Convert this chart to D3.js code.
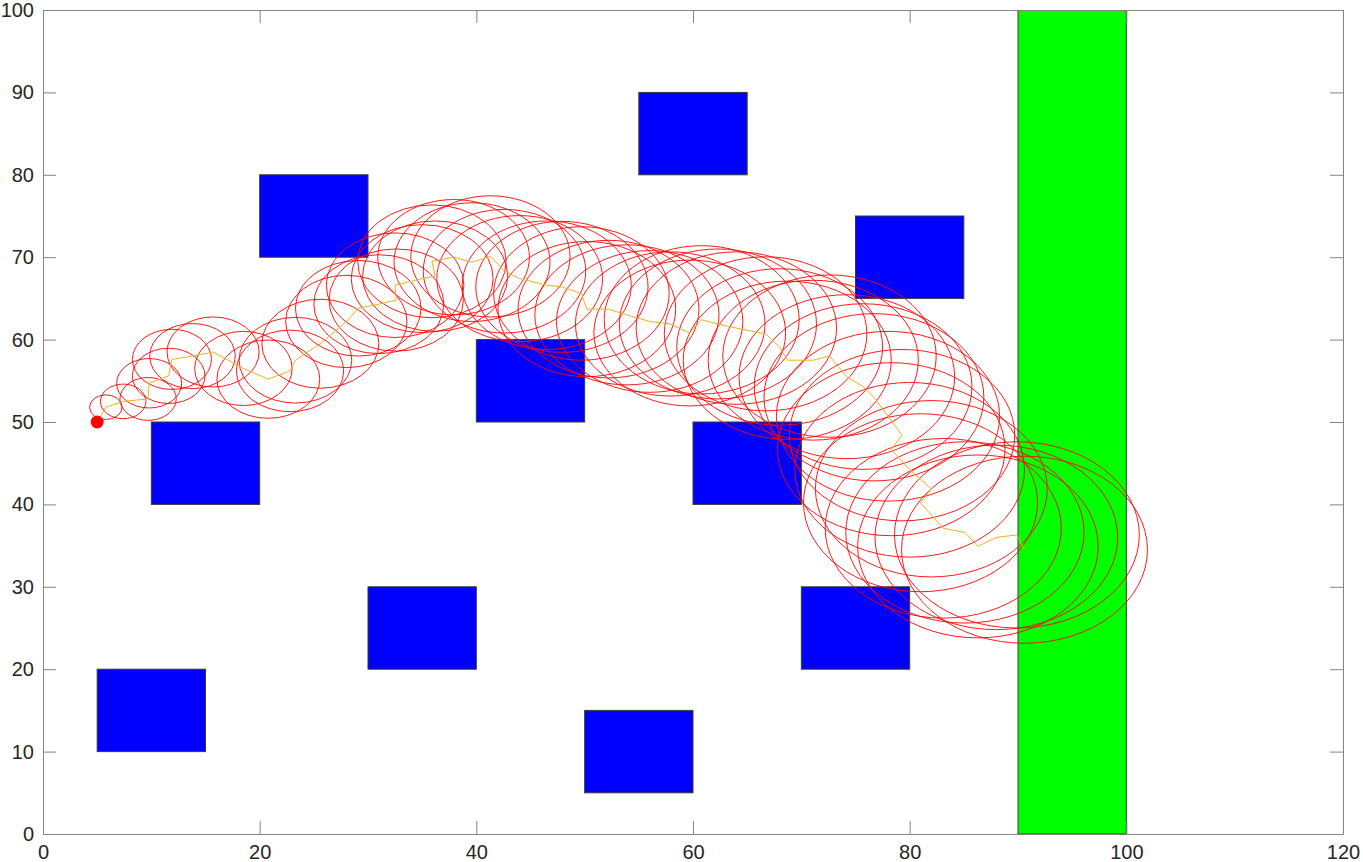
<!DOCTYPE html>
<html>
<head>
<meta charset="utf-8">
<script src="https://cdn.jsdelivr.net/npm/d3@7"></script>
<style>
  html, body { margin: 0; padding: 0; background: #fff; }
  svg { display: block; }
</style>
</head>
<body>
<script>
// ---- data ----
const xTicks = [0, 20, 40, 60, 80, 100, 120];
const yTicks = [0, 10, 20, 30, 40, 50, 60, 70, 80, 90, 100];

// obstacles: lower-left corner and size (data units)
const obstacleX = [5, 10, 20, 30, 40, 50, 55, 60, 70, 75];
const obstacleY = [10, 40, 70, 20, 50, 5, 80, 40, 20, 65];
const obstacleW = [10, 10, 10, 10, 10, 10, 10, 10, 10, 10];
const obstacleH = [10, 10, 10, 10, 10, 10, 10, 10, 10, 10];

// goal region
const goalX = [90];
const goalY = [0];
const goalW = [10];
const goalH = [100];

// start point
const startPoint = [5, 50];

// path vertices (after start)
const pathX = [5.8, 7.4, 9.7, 9.8, 11.6, 11.9, 13.8, 15.7, 18.5, 20.8,
  22.8, 23.3, 25.6, 28.0, 29.1, 31.0, 32.6, 32.5, 35.0, 36.2,
  35.9, 37.9, 39.6, 41.3, 42.6, 44.0, 46.5, 47.9, 49.7, 50.2,
  52.2, 53.9, 56.0, 57.9, 59.7, 60.8, 62.3, 64.0, 66.7, 68.0,
  68.7, 71.1, 72.6, 74.2, 75.7, 76.7, 78.0, 79.3, 78.3, 80.0,
  82.0, 81.0, 83.1, 85.1, 86.3, 88.0, 89.9, 90.6];
const pathY = [51.8, 52.5, 52.8, 54.7, 55.6, 57.6, 58.0, 58.5, 56.5, 55.2,
  56.2, 57.5, 59.5, 62.2, 63.8, 64.3, 64.8, 66.6, 67.4, 67.7,
  69.5, 70.0, 69.4, 70.1, 68.3, 67.4, 66.6, 66.4, 65.6, 63.7,
  63.7, 63.0, 62.2, 61.9, 60.8, 62.4, 61.9, 61.4, 60.7, 59.1,
  57.5, 57.5, 58.0, 55.5, 54.3, 53.0, 50.7, 48.4, 46.7, 44.2,
  41.9, 40.2, 37.1, 36.6, 34.9, 36.0, 36.3, 34.5];
// uncertainty circle radius at each path vertex (data units)
const radii = [1.5, 2.1, 2.6, 3.0, 3.35, 3.65, 3.95, 4.25, 4.5, 4.75,
  4.95, 5.2, 5.4, 5.6, 5.8, 6.0, 6.2, 6.35, 6.55, 6.7,
  6.85, 7.0, 7.2, 7.35, 7.5, 7.65, 7.8, 7.95, 8.1, 8.2,
  8.35, 8.5, 8.6, 8.75, 8.85, 9.0, 9.1, 9.25, 9.35, 9.5,
  9.6, 9.7, 9.85, 9.95, 10.05, 10.15, 10.3, 10.4, 10.5, 10.6,
  10.7, 10.8, 10.9, 11.0, 11.1, 11.2, 11.3, 11.35];

// ---- layout ----
const W = 1363, H = 862;
const mLeft = 43, mRight = 1343, mTop = 10, mBottom = 834;

const x = d3.scaleLinear().domain([0, 120]).range([mLeft, mRight]);
const y = d3.scaleLinear().domain([0, 100]).range([mBottom, mTop]);

const svg = d3.select("body").append("svg")
  .attr("width", W).attr("height", H);

svg.append("defs").append("clipPath").attr("id", "clip")
  .append("rect").attr("x", mLeft).attr("y", mTop)
  .attr("width", mRight - mLeft).attr("height", mBottom - mTop);

const plot = svg.append("g").attr("clip-path", "url(#clip)");

// goal region
plot.selectAll("rect.goal").data(goalX.map((v, i) => i)).join("rect")
  .attr("class", "goal")
  .attr("x", i => x(goalX[i]))
  .attr("y", i => y(goalY[i] + goalH[i]))
  .attr("width", i => x(goalX[i] + goalW[i]) - x(goalX[i]))
  .attr("height", i => y(goalY[i]) - y(goalY[i] + goalH[i]))
  .attr("fill", "#00ff00")
  .attr("stroke", "#3a3a3a")
  .attr("stroke-width", 1);

// obstacles
plot.selectAll("rect.obs").data(obstacleX.map((v, i) => i)).join("rect")
  .attr("class", "obs")
  .attr("x", i => x(obstacleX[i]))
  .attr("y", i => y(obstacleY[i] + obstacleH[i]))
  .attr("width", i => x(obstacleX[i] + obstacleW[i]) - x(obstacleX[i]))
  .attr("height", i => y(obstacleY[i]) - y(obstacleY[i] + obstacleH[i]))
  .attr("fill", "#0000ff")
  .attr("stroke", "#3a3a3a")
  .attr("stroke-width", 1);

// uncertainty circles (circles in data space -> ellipses on screen)
plot.selectAll("ellipse.unc").data(pathX.map((v, i) => i)).join("ellipse")
  .attr("class", "unc")
  .attr("cx", i => x(pathX[i]))
  .attr("cy", i => y(pathY[i]))
  .attr("rx", i => x(radii[i]) - x(0))
  .attr("ry", i => y(0) - y(radii[i]))
  .attr("fill", "none")
  .attr("stroke", "#ff0000")
  .attr("stroke-width", 0.9);

// path
const pts = [startPoint].concat(pathX.map((v, i) => [v, pathY[i]]));
plot.append("path")
  .datum(pts)
  .attr("d", d3.line().x(d => x(d[0])).y(d => y(d[1])))
  .attr("fill", "none")
  .attr("stroke", "#EDB120")
  .attr("stroke-width", 1);

// start point
plot.append("circle")
  .attr("cx", x(startPoint[0])).attr("cy", y(startPoint[1]))
  .attr("r", 6.5).attr("fill", "#ff0000");

// ---- axes ----
const axisColor = "#848484";
const tickLen = 13;
function styleAxis(g, labels) {
  g.select(".domain").attr("stroke", axisColor).attr("stroke-width", 1);
  g.selectAll(".tick line").attr("stroke", axisColor).attr("stroke-width", 1);
  g.selectAll(".tick text")
    .attr("fill", "#262626")
    .style("font-family", "'Liberation Sans', Arial, sans-serif")
    .style("font-size", "20px");
  if (!labels) g.selectAll(".tick text").remove();
}

svg.append("g").attr("transform", `translate(0,${mBottom})`)
  .call(d3.axisBottom(x).tickValues(xTicks).tickSize(-tickLen).tickSizeOuter(0).tickPadding(11))
  .call(g => styleAxis(g, true));

svg.append("g").attr("transform", `translate(0,${mTop})`)
  .call(d3.axisTop(x).tickValues(xTicks).tickSize(-tickLen).tickSizeOuter(0))
  .call(g => styleAxis(g, false));

svg.append("g").attr("transform", `translate(${mLeft},0)`)
  .call(d3.axisLeft(y).tickValues(yTicks).tickSize(-tickLen).tickSizeOuter(0).tickPadding(9))
  .call(g => styleAxis(g, true));

svg.append("g").attr("transform", `translate(${mRight},0)`)
  .call(d3.axisRight(y).tickValues(yTicks).tickSize(-tickLen).tickSizeOuter(0))
  .call(g => styleAxis(g, false));
</script>
</body>
</html>
